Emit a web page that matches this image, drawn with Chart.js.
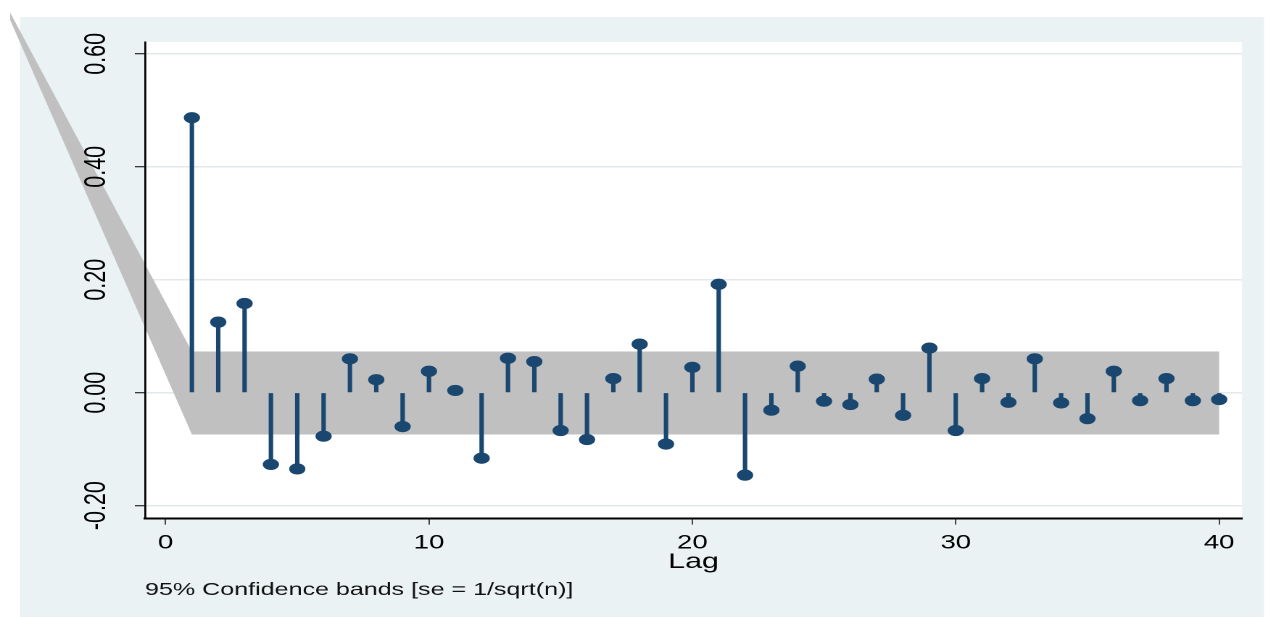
<!DOCTYPE html>
<html>
<head>
<meta charset="utf-8">
<script src="https://cdn.jsdelivr.net/npm/chart.js@4.4.1/dist/chart.umd.min.js"></script>
<style>
  html, body { margin: 0; padding: 0; background: #ffffff; overflow: hidden; width: 1271px; height: 617px; }
  #wrap { width: 877px; height: 617px; transform: scaleX(1.45); transform-origin: 0 0; }
</style>
</head>
<body>
<div id="wrap"><canvas id="c" width="877" height="617"></canvas></div>
<script>
// ---- data ----
const lags = [1,2,3,4,5,6,7,8,9,10,11,12,13,14,15,16,17,18,19,20,
              21,22,23,24,25,26,27,28,29,30,31,32,33,34,35,36,37,38,39,40];
const pacf = [0.487, 0.125, 0.158, -0.127, -0.135, -0.077, 0.060, 0.023, -0.060, 0.038,
              0.004, -0.116, 0.061, 0.055, -0.067, -0.083, 0.025, 0.086, -0.091, 0.045,
              0.192, -0.146, -0.031, 0.047, -0.015, -0.021, 0.024, -0.040, 0.079, -0.067,
              0.025, -0.017, 0.060, -0.018, -0.046, 0.038, -0.014, 0.025, -0.014, -0.012];
const bandLags  = [-5.9, 1, 40];
const bandUpper = [0.673, 0.073, 0.073];
const bandLower = [0.660, -0.074, -0.074];
const xTicks = [0, 10, 20, 30, 40];
const yTicks = [-0.2, 0, 0.2, 0.4, 0.6];
const xTitle = 'Lag';
const footnote = '95% Confidence bands [se = 1/sqrt(n)]';

const FONT = '"Liberation Sans", Arial, Helvetica, sans-serif';
const NAVY = '#1a476f';

const bgPlugin = {
  id: 'bg',
  beforeDraw(chart) {
    const ctx = chart.ctx, a = chart.chartArea;
    ctx.save();
    ctx.fillStyle = '#ffffff';
    ctx.fillRect(0, 0, chart.width, chart.height);
    ctx.fillStyle = '#eaf2f3';
    ctx.fillRect(13.8, 17, 871.7 - 13.8, chart.height - 17);
    ctx.fillStyle = '#ffffff';
    ctx.fillRect(a.left, a.top, a.right - a.left, a.bottom - a.top);
    ctx.restore();
  }
};

const bandPlugin = {
  id: 'band',
  beforeDatasetsDraw(chart) {
    const up = chart.getDatasetMeta(2).data;
    const lo = chart.getDatasetMeta(3).data;
    const ctx = chart.ctx;
    ctx.save();
    ctx.beginPath();
    up.forEach((p, i) => i ? ctx.lineTo(p.x, p.y) : ctx.moveTo(p.x, p.y));
    for (let i = lo.length - 1; i >= 0; i--) ctx.lineTo(lo[i].x, lo[i].y);
    ctx.closePath();
    ctx.fillStyle = '#c0c0c0';
    ctx.fill();
    ctx.restore();
  }
};

new Chart(document.getElementById('c'), {
  type: 'bar',
  data: {
    datasets: [
      {
        type: 'bar',
        data: lags.map((l, i) => ({x: l, y: pacf[i]})),
        backgroundColor: NAVY,
        borderWidth: 0,
        barThickness: 2.4,
        order: 2
      },
      {
        type: 'line',
        data: lags.map((l, i) => ({x: l, y: pacf[i]})),
        showLine: false,
        pointRadius: 5.6,
        pointHoverRadius: 5.6,
        pointBackgroundColor: NAVY,
        pointBorderWidth: 0,
        order: 1
      },
      {
        type: 'line',
        data: bandLags.map((l, i) => ({x: l, y: bandUpper[i]})),
        showLine: false, pointRadius: 0, pointHoverRadius: 0, clip: false, order: 3
      },
      {
        type: 'line',
        data: bandLags.map((l, i) => ({x: l, y: bandLower[i]})),
        showLine: false, pointRadius: 0, pointHoverRadius: 0, clip: false, order: 3
      }
    ]
  },
  options: {
    responsive: false,
    animation: false,
    devicePixelRatio: 2,
    layout: { padding: { left: 0, top: 42, right: 20.4, bottom: 0 } },
    plugins: {
      legend: { display: false },
      tooltip: { enabled: false },
      title: {
        display: true,
        text: footnote,
        position: 'bottom',
        align: 'start',
        fullSize: false,
        color: '#111',
        font: { family: FONT, size: 17.3, weight: 'normal' },
        padding: { top: 0, bottom: 16.4 }
      }
    },
    scales: {
      x: {
        type: 'linear',
        min: -0.78,
        max: 40.87,
        offset: false,
        afterBuildTicks: s => { s.ticks = xTicks.map(v => ({value: v})); },
        afterFit: s => { s.height = 61.2; },
        grid: { offset: false, drawOnChartArea: false, drawTicks: true, tickLength: 6, tickColor: '#444', tickWidth: 1 },
        border: { display: true, color: '#000', width: 2 },
        ticks: { padding: 7, color: '#000', maxRotation: 0, autoSkip: false,
                 font: { family: FONT, size: 19 }, callback: v => String(v) },
        title: { display: true, text: xTitle, color: '#000',
                 font: { family: FONT, size: 21 }, padding: { top: 0, bottom: 5.1 } }
      },
      y: {
        type: 'linear',
        min: -0.223,
        max: 0.621,
        afterBuildTicks: s => { s.ticks = yTicks.map(v => ({value: v})); },
        afterFit: s => { s.width = 100; },
        grid: { color: '#e3e9ea', lineWidth: 1.5, drawTicks: true, tickLength: 7, tickColor: '#000', tickWidth: 1 },
        border: { display: true, color: '#000', width: 1.4, z: 1 },
        ticks: { minRotation: 90, maxRotation: 90, crossAlign: 'center', padding: 2, z: 1,
                 color: '#000', font: { family: FONT, size: 21.5 },
                 callback: v => Number(v).toFixed(2) }
      }
    }
  },
  plugins: [bgPlugin, bandPlugin]
});
</script>
</body>
</html>
